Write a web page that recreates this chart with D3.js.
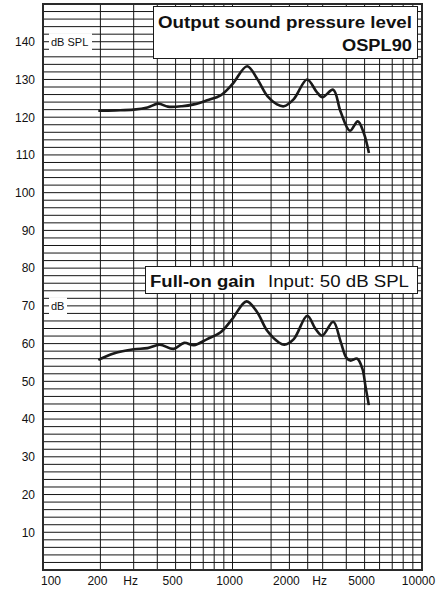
<!DOCTYPE html>
<html>
<head>
<meta charset="utf-8">
<script src="https://cdn.jsdelivr.net/npm/d3@7/dist/d3.min.js"></script>
<style>
  html, body { margin: 0; padding: 0; background: #fff; }
  svg { display: block; font-family: "Liberation Sans", Arial, Helvetica, sans-serif; }
</style>
</head>
<body>
<svg id="chart" width="444" height="593"></svg>
<script>
// Frequency response of the hearing instrument (Hz, dB)
const freqOspl = [195, 240, 300, 355, 405, 455, 540, 625, 735, 865, 1000, 1195, 1350, 1530, 1720, 1870, 2110, 2480, 2780, 2990, 3410, 3730, 4180, 4600, 4950, 5270];
const ospl90   = [121.7, 121.8, 122.0, 122.6, 123.6, 122.8, 122.9, 123.4, 124.5, 125.8, 128.8, 133.5, 130.2, 125.6, 123.4, 122.9, 124.8, 130.0, 126.8, 125.3, 127.3, 121.5, 116.4, 118.9, 115.8, 110.5];

const freqGain = [195, 235, 300, 355, 412, 488, 555, 625, 735, 865, 996, 1186, 1351, 1526, 1760, 1880, 2110, 2486, 2749, 2983, 3411, 3730, 4000, 4200, 4570, 4870, 5050, 5264];
const gain     = [55.7, 57.4, 58.5, 58.8, 59.7, 58.6, 60.2, 59.6, 61.2, 63.0, 66.5, 71.2, 68.3, 63.4, 60.3, 59.7, 61.2, 67.4, 63.9, 62.1, 65.8, 60.6, 56.3, 55.5, 56.0, 53.3, 48.8, 43.7];

// Axis ticks and grid
const yTicks = [10, 20, 30, 40, 50, 60, 70, 80, 90, 100, 110, 120, 130, 140];
const xTickLabels = [
  { f: 100,   text: "100" },
  { f: 200,   text: "200" },
  { f: 300,   text: "Hz" },
  { f: 500,   text: "500" },
  { f: 1000,  text: "1000" },
  { f: 2000,  text: "2000" },
  { f: 3000,  text: "Hz" },
  { f: 5000,  text: "5000" },
  { f: 10000, text: "10000" }
];
const gridFreqs = [200, 300, 400, 500, 600, 700, 800, 900, 1000, 1600, 2000, 2500, 3000, 4000, 5000, 6000, 7000, 8000, 9000];
const gridLevels = d3.range(2, 150, 2);

const svg = d3.select("#chart");

const x = d3.scaleLog().domain([100, 10000]).range([43.5, 421.5]);
const y = d3.scaleLinear().domain([0, 150]).range([570, 4]);

// grid
const grid = svg.append("g").attr("stroke", "#151515").attr("stroke-width", 1);
grid.selectAll("line.h").data(gridLevels).join("line")
  .attr("class", "h")
  .attr("x1", x(100)).attr("x2", x(10000))
  .attr("y1", d => y(d)).attr("y2", d => y(d));
grid.selectAll("line.v").data(gridFreqs).join("line")
  .attr("class", "v")
  .attr("x1", d => x(d)).attr("x2", d => x(d))
  .attr("y1", y(0)).attr("y2", y(150));

// unit tags on the left edge
function unitTag(text, level, x0, x1, halfH) {
  svg.append("rect")
    .attr("x", x0).attr("y", y(level) - halfH)
    .attr("width", x1 - x0).attr("height", halfH * 2)
    .attr("fill", "#fff");
  svg.append("text")
    .attr("x", x0 + 2).attr("y", y(level))
    .attr("dy", "0.36em")
    .attr("font-size", 11)
    .attr("fill", "#111")
    .text(text);
}
unitTag("dB SPL", 140, 49, 92, 8.6);
unitTag("dB", 70, 49, 67, 8.6);

// frame
svg.append("rect")
  .attr("x", x(100) - 0.5).attr("y", y(150))
  .attr("width", x(10000) - x(100) + 1).attr("height", y(0) - y(150))
  .attr("fill", "none").attr("stroke", "#2a2a2a").attr("stroke-width", 2);

// y labels
svg.append("g").selectAll("text").data(yTicks).join("text")
  .attr("x", 35).attr("y", d => y(d))
  .attr("dy", "0.36em")
  .attr("text-anchor", "end")
  .attr("font-size", 12)
  .attr("fill", "#111")
  .text(d => d);

// x labels
svg.append("g").selectAll("text").data(xTickLabels).join("text")
  .attr("x", d => d.f === 100 ? x(d.f) - 2.5 : x(d.f) - 3)
  .attr("y", 585)
  .attr("text-anchor", d => d.f === 100 ? "start" : "middle")
  .attr("font-size", 12)
  .attr("fill", "#111")
  .text(d => d.text);

// response curves
const line = d3.line()
  .x(d => x(d[0]))
  .y(d => y(d[1]))
  .curve(d3.curveCatmullRom.alpha(0.5));

svg.append("path")
  .datum(d3.zip(freqOspl, ospl90))
  .attr("d", line)
  .attr("fill", "none").attr("stroke", "#1a1a1a")
  .attr("stroke-width", 2.6).attr("stroke-linejoin", "round").attr("stroke-linecap", "butt");

svg.append("path")
  .datum(d3.zip(freqGain, gain))
  .attr("d", line)
  .attr("fill", "none").attr("stroke", "#1a1a1a")
  .attr("stroke-width", 2.6).attr("stroke-linejoin", "round").attr("stroke-linecap", "butt");

// title boxes
const box1 = svg.append("g");
box1.append("rect")
  .attr("x", 153.5).attr("y", 6.5).attr("width", 264).attr("height", 52)
  .attr("fill", "#fff").attr("stroke", "#1a1a1a").attr("stroke-width", 1);
box1.append("text")
  .attr("x", 412).attr("y", 27.5)
  .attr("text-anchor", "end").attr("font-size", 16.8).attr("font-weight", "bold")
  .attr("fill", "#111")
  .attr("textLength", 254).attr("lengthAdjust", "spacingAndGlyphs")
  .text("Output sound pressure level");
box1.append("text")
  .attr("x", 412).attr("y", 50.5)
  .attr("text-anchor", "end").attr("font-size", 16.8).attr("font-weight", "bold")
  .attr("fill", "#111")
  .attr("textLength", 70).attr("lengthAdjust", "spacingAndGlyphs")
  .text("OSPL90");

const box2 = svg.append("g");
box2.append("rect")
  .attr("x", 145.5).attr("y", 266.5).attr("width", 272).attr("height", 27)
  .attr("fill", "#fff").attr("stroke", "#1a1a1a").attr("stroke-width", 1);
box2.append("text")
  .attr("x", 150).attr("y", 286.5)
  .attr("font-size", 16.8).attr("font-weight", "bold")
  .attr("fill", "#111")
  .attr("textLength", 105).attr("lengthAdjust", "spacingAndGlyphs")
  .text("Full-on gain");
box2.append("text")
  .attr("x", 268).attr("y", 286.5)
  .attr("font-size", 16.8)
  .attr("fill", "#111")
  .attr("textLength", 141).attr("lengthAdjust", "spacingAndGlyphs")
  .text("Input: 50 dB SPL");
</script>
</body>
</html>
